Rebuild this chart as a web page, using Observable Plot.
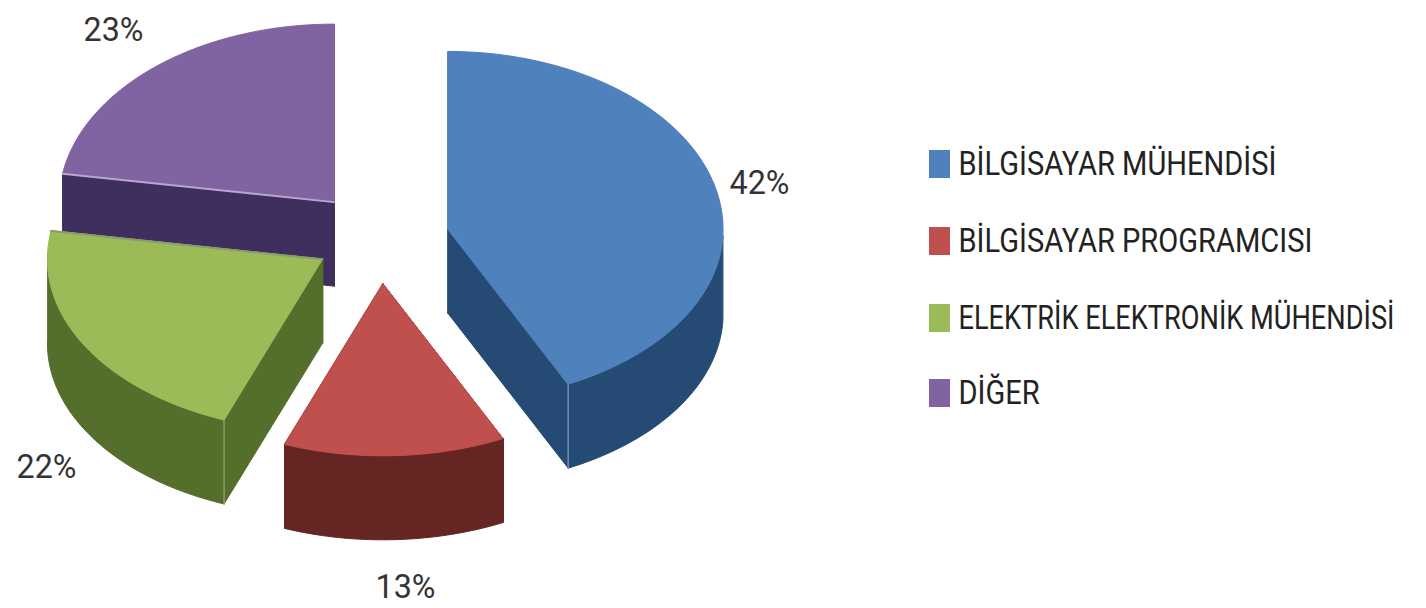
<!DOCTYPE html>
<html>
<head>
<meta charset="utf-8">
<style>
html,body{margin:0;padding:0;background:#fff;}
svg{display:block;}
</style>
<script src="https://cdn.jsdelivr.net/npm/d3@7"></script>
<script src="https://cdn.jsdelivr.net/npm/@observablehq/plot@0.6"></script>
</head>
<body>
<div id="chart"></div>
<script>
const categories = ["BİLGİSAYAR MÜHENDİSİ","BİLGİSAYAR PROGRAMCISI","ELEKTRİK ELEKTRONİK MÜHENDİSİ","DİĞER"];
const shares = [42,13,22,23];
const topColors = ["#4f81bd","#c0504d","#9bbb59","#8064a2"];
const sideColors = ["#254a74","#652523","#546e2c","#3f2f5e"];
const edgeColors = ["#6f8fb5","#8a4a48","#8a9c68","#b9a6d0"];
const labelX = [759,405,46,113];
const labelY = [183,587,467,30];
const legendY = [164,241,318,393];
const legendSqueeze = [0.855,0.855,0.80,0.855];

// pie layout: centre, radii (back / front differ for the perspective), depth, explosion
const cx=381, cy=240, rx=275, ryBack=178, ryFront=172, depth=84, explode=0.25;
const warp=3*Math.PI/180;        // perspective shift of the angles toward the front
const nudgeX=[0,-5,-1,-2], nudgeY=[0,-1,-5,-5];

const total=d3.sum(shares);
let acc=0;
const project=a=>a+warp*Math.abs(Math.sin(a/2));
const slices=shares.map((v,i)=>{
  const a0=acc/total*2*Math.PI; acc+=v; const a1=acc/total*2*Math.PI;
  const m=(a0+a1)/2;
  return {i,a0,a1,
    ox:cx+explode*rx*Math.sin(m)+nudgeX[i],
    oy:cy-explode*ryBack*Math.cos(m)+nudgeY[i]};
});
const rim=(s,a,dz=0)=>{
  const p=project(a), c=Math.cos(p);
  return {x:s.ox+rx*Math.sin(p),y:s.oy-(c>0?ryBack:ryFront)*c+dz};
};
const arc=(s,a0,a1,dz=0)=>d3.range(0,61).map(k=>rim(s,a0+(a1-a0)*k/60,dz));
const apex=(s,dz=0)=>({x:s.ox,y:s.oy+dz});
const poly=(pts,fill,stroke)=>Plot.line(pts,{x:"x",y:"y",fill,stroke:stroke||fill,strokeWidth:1,curve:"linear-closed"});

const marks=[];
for(const i of [3,0,2,1]){
  const s=slices[i], side=sideColors[i], top=topColors[i];
  for(const a of [s.a0,s.a1]){
    marks.push(poly([apex(s),rim(s,a),rim(s,a,depth),apex(s,depth)],side));
  }
  const lo=Math.max(s.a0,Math.PI/2), hi=Math.min(s.a1,3*Math.PI/2);
  if(hi>lo) marks.push(poly([...arc(s,lo,hi),...arc(s,hi,lo,depth)],side));
  // seam between the cut face and the outer wall
  const seam = i===0 ? s.a1 : i===2 ? s.a0 : null;
  if(seam!==null) marks.push(Plot.line([rim(s,seam),rim(s,seam,depth)],{x:"x",y:"y",stroke:edgeColors[i],strokeWidth:1.5}));
  marks.push(poly([apex(s),...arc(s,s.a0,s.a1)],top));
  // light edge along the top of the visible cut face
  if(i===3||i===2) marks.push(Plot.line([apex(s),rim(s,i===3?s.a0:s.a1)],{x:"x",y:"y",stroke:edgeColors[i],strokeWidth:2}));
}

const percent=shares.map((v,i)=>({t:v+"%",x:labelX[i],y:labelY[i]}));
const legend=categories.map((c,i)=>({c,y:legendY[i],color:topColors[i]}));
const font='Roboto,"Liberation Sans",sans-serif';

marks.push(
  Plot.text(percent,{x:"x",y:"y",text:"t",fontSize:34,fill:"#333",fontFamily:font}),
  Plot.rect(legend,{x1:()=>929,x2:()=>950,y1:d=>d.y-14,y2:d=>d.y+14,fill:"color"}),
  Plot.text(legend,{x:()=>958,y:"y",text:"c",textAnchor:"start",fontSize:34,fill:"#222",fontFamily:font})
);

const chart=Plot.plot({
  width:1426,height:608,margin:0,
  x:{domain:[0,1426],range:[0,1426],axis:null},
  y:{domain:[0,608],range:[0,608],axis:null},
  color:{type:"identity"},
  marks
});
document.getElementById("chart").append(chart);

// the reference's type is tall and condensed: squeeze every label horizontally
chart.querySelectorAll("text").forEach(t=>{
  const row=categories.indexOf(t.textContent);
  const squeeze=row>=0?legendSqueeze[row]:0.95;
  const base=t.getAttribute("transform")||"";
  t.setAttribute("transform",`${base} scale(${squeeze},1)`);
});
</script>
</body>
</html>
